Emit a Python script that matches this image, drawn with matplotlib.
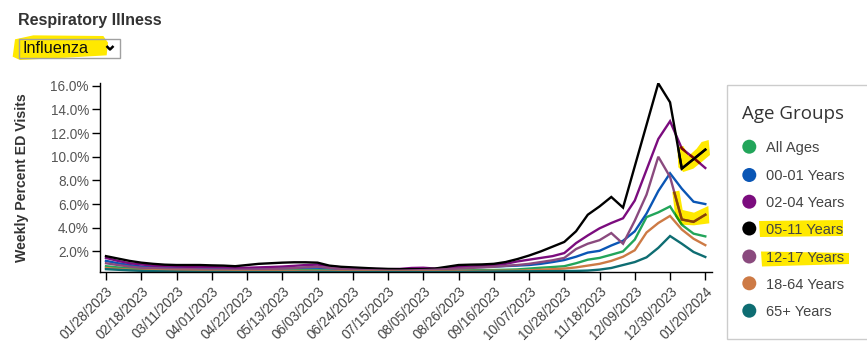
import numpy as np
import matplotlib
matplotlib.use("Agg")
import matplotlib.pyplot as plt
from matplotlib.patches import Polygon, Rectangle, Circle
from matplotlib.colors import to_rgb

# ---------------- data ----------------
tick_labels = ["01/28/2023", "02/18/2023", "03/11/2023", "04/01/2023", "04/22/2023",
               "05/13/2023", "06/03/2023", "06/24/2023", "07/15/2023", "08/05/2023",
               "08/26/2023", "09/16/2023", "10/07/2023", "10/28/2023", "11/18/2023",
               "12/09/2023", "12/30/2023", "01/20/2024"]

series_names = ["All Ages", "00-01 Years", "02-04 Years", "05-11 Years",
                "12-17 Years", "18-64 Years", "65+ Years"]

all_ages = [0.75, 0.65, 0.58, 0.52, 0.48, 0.46, 0.44, 0.42, 0.41, 0.4,
            0.39, 0.38, 0.38, 0.38, 0.39, 0.4, 0.41, 0.42, 0.42, 0.4,
            0.38, 0.37, 0.36, 0.35, 0.35, 0.35, 0.35, 0.36, 0.37, 0.38,
            0.4, 0.41, 0.42, 0.43, 0.45, 0.48, 0.55, 0.62, 0.68, 0.75,
            1.0, 1.3, 1.45, 1.72, 2.0, 3.0, 4.9, 5.3, 5.8, 4.25,
            3.5, 3.27]
age_00_01 = [1.2, 1.0, 0.85, 0.72, 0.68, 0.62, 0.6, 0.58, 0.55, 0.55,
             0.52, 0.5, 0.5, 0.52, 0.55, 0.58, 0.6, 0.62, 0.62, 0.58,
             0.52, 0.48, 0.46, 0.44, 0.43, 0.43, 0.44, 0.45, 0.5, 0.6,
             0.65, 0.66, 0.68, 0.72, 0.76, 0.8, 0.85, 0.95, 1.1, 1.27,
             1.55, 1.9, 2.05, 2.5, 2.9, 3.7, 5.2, 7.1, 8.6, 7.3,
             6.2, 6.0]
age_02_04 = [1.45, 1.2, 1.0, 0.9, 0.8, 0.75, 0.72, 0.7, 0.7, 0.68,
             0.65, 0.62, 0.62, 0.65, 0.68, 0.72, 0.78, 0.85, 0.88, 0.75,
             0.65, 0.58, 0.55, 0.52, 0.5, 0.52, 0.6, 0.62, 0.55, 0.6,
             0.68, 0.72, 0.78, 0.85, 0.95, 1.15, 1.3, 1.45, 1.6, 1.86,
             2.7, 3.35, 3.95, 4.4, 4.8, 6.3, 8.9, 11.5, 13.0, 10.7,
             9.9, 9.05]
age_05_11 = [1.6, 1.4, 1.2, 1.05, 0.95, 0.88, 0.85, 0.85, 0.85, 0.82,
             0.8, 0.75, 0.85, 0.95, 1.0, 1.05, 1.08, 1.08, 1.05, 0.8,
             0.7, 0.65, 0.6, 0.55, 0.52, 0.5, 0.5, 0.5, 0.55, 0.7,
             0.85, 0.88, 0.9, 0.95, 1.1, 1.35, 1.65, 2.0, 2.4, 2.8,
             3.7, 5.1, 5.8, 6.6, 5.7, 9.2, 12.7, 16.2, 14.6, 9.0,
             9.8, 10.6]
age_12_17 = [1.0, 0.85, 0.72, 0.62, 0.58, 0.55, 0.52, 0.5, 0.48, 0.47,
             0.46, 0.45, 0.46, 0.48, 0.5, 0.55, 0.6, 0.66, 0.7, 0.6,
             0.5, 0.45, 0.42, 0.4, 0.38, 0.38, 0.4, 0.42, 0.45, 0.5,
             0.55, 0.6, 0.65, 0.7, 0.78, 0.85, 0.95, 1.1, 1.25, 1.45,
             2.2, 2.65, 2.95, 3.55, 2.65, 4.6, 6.8, 10.0, 8.3, 4.7,
             4.5, 5.1]
age_18_64 = [0.6, 0.52, 0.46, 0.42, 0.4, 0.38, 0.37, 0.36, 0.35, 0.34,
             0.34, 0.33, 0.33, 0.33, 0.34, 0.34, 0.35, 0.35, 0.35, 0.34,
             0.33, 0.32, 0.32, 0.31, 0.31, 0.31, 0.31, 0.32, 0.32, 0.33,
             0.34, 0.35, 0.35, 0.36, 0.37, 0.38, 0.4, 0.45, 0.5, 0.55,
             0.65, 0.8, 0.95, 1.2, 1.55, 2.1, 3.6, 4.4, 5.0, 3.85,
             3.07, 2.53]
age_65_plus = [0.5, 0.45, 0.4, 0.36, 0.33, 0.31, 0.29, 0.28, 0.27, 0.27,
               0.27, 0.26, 0.26, 0.26, 0.26, 0.26, 0.26, 0.27, 0.27, 0.27,
               0.26, 0.26, 0.26, 0.26, 0.26, 0.26, 0.26, 0.26, 0.26, 0.27,
               0.27, 0.28, 0.29, 0.3, 0.31, 0.32, 0.32, 0.33, 0.33, 0.34,
               0.35, 0.38, 0.46, 0.6, 0.85, 1.1, 1.5, 2.3, 3.3, 2.65,
               1.95, 1.53]

series_values = [all_ages, age_00_01, age_02_04, age_05_11, age_12_17, age_18_64, age_65_plus]
colors = ["#22a55a", "#0a56b5", "#7b0c7e", "#000000", "#8a4a7e", "#cd7a45", "#0e6d72"]
yticks = [2, 4, 6, 8, 10, 12, 14, 16]

# ---------------- figure ----------------
W, H = 867, 356
fig = plt.figure(figsize=(W / 100, H / 100), dpi=100)
YEL = "#ffe900"

# background overlay axes in pixel coordinates
bg = fig.add_axes([0, 0, 1, 1], zorder=0)
bg.set_xlim(0, W)
bg.set_ylim(H, 0)
bg.axis("off")

# main chart axes
L, R, T, B = 100, 712, 83, 272
ax = fig.add_axes([L / W, 1 - B / H, (R - L) / W, (B - T) / H], zorder=1)
ax.patch.set_visible(False)

x = np.arange(len(all_ages))

def zp(pts, ox, oy):
    return [(ox + a / 3, oy + b / 3) for a, b in pts]

# highlighter strokes on chart (under lines)
hl1 = Polygon(zp([(742, 232), (760, 228), (776, 258), (800, 236), (815, 216), (836, 210),
                  (840, 255), (815, 276), (790, 296), (760, 306), (745, 292)], 430, 70),
              closed=True, facecolor=YEL, edgecolor="none", zorder=0.5)
hl2 = Polygon(zp([(727, 366), (748, 362), (758, 420), (792, 428), (835, 408), (838, 460),
                  (792, 466), (752, 464), (736, 440)], 430, 70),
              closed=True, facecolor=YEL, edgecolor="none", zorder=0.5)
bg.add_patch(hl1)
bg.add_patch(hl2)

yel_rgb = np.array(to_rgb(YEL))
for vals, c in zip(series_values, colors):
    ax.plot(x, vals, color=c, lw=1.7, solid_joinstyle="miter", zorder=2)
    mc = tuple(np.array(to_rgb(c)) * yel_rgb)
    for hp in (hl1, hl2):
        ln, = ax.plot(x, vals, color=mc, lw=1.7, solid_joinstyle="miter", zorder=2.5)
        ln.set_clip_path(hp)

ax.set_xlim(-0.51, 51.57)
ax.set_ylim(0.26, 16.23)
for s in ("top", "right"):
    ax.spines[s].set_visible(False)
for s in ("left", "bottom"):
    ax.spines[s].set_color("black")
    ax.spines[s].set_linewidth(1)

ax.set_yticks(yticks)
ax.set_yticklabels([f"{v:.1f}%" for v in yticks], fontsize=9.8, color="#555555",
                   family="Liberation Sans")
ax.set_xticks(np.arange(0, len(all_ages), 3))
ax.set_xticklabels(tick_labels, rotation=45, ha="right", rotation_mode="anchor",
                   fontsize=9.8, color="#444444", family="Liberation Sans")
ax.tick_params(axis="both", direction="out", length=6, width=1, color="black", pad=2)
ax.tick_params(axis="x", pad=3)

fig.text(22 / W, 1 - 178 / H, "Weekly Percent ED Visits", rotation=90, ha="center", va="center",
         fontsize=10.2, fontweight="bold", color="#333333", family="Liberation Sans")

# title and dropdown
bg.text(18, 21, "Respiratory Illness", fontsize=11.5, fontweight="bold", color="#333333",
        family="Liberation Sans", va="center", ha="left")
bg.add_patch(Polygon(zp([(45, 118), (100, 106), (310, 108), (324, 128), (320, 166),
                         (200, 173), (60, 180), (38, 170)], 0, 0),
                     closed=True, facecolor=YEL, edgecolor="none", zorder=1))
bg.add_patch(Rectangle((18.5, 38.5), 101, 19.5, facecolor="none", edgecolor="#a0a0a0",
                       lw=1, zorder=2))
bg.text(22.5, 48.5, "Influenza", fontsize=11.7, color="#111111", family="Liberation Sans",
        va="center", ha="left", zorder=3)
bg.plot([106.5, 110, 113.5], [46, 49.5, 46], color="black", lw=1.8, zorder=3,
        solid_capstyle="butt")

# legend
bg.add_patch(Rectangle((727, 85), 150, 254, facecolor="none", edgecolor="#cccccc", lw=1))
bg.text(742, 114, "Age Groups", fontsize=13.5, color="#333333", family="Open Sans",
        va="center", ha="left")
bg.add_patch(Polygon([(759, 221), (843, 220), (843, 236), (760, 237)], closed=True,
                     facecolor=YEL, edgecolor="none", zorder=1))
bg.add_patch(Polygon([(761, 251.5), (849, 253), (849, 264), (762, 266.5)], closed=True,
                     facecolor=YEL, edgecolor="none", zorder=1))
ys = [146.7, 175, 201.7, 228.5, 256.5, 283.3, 310.7]
for name, c, yy in zip(series_names, colors, ys):
    bg.add_patch(Circle((749.3, yy), 7, facecolor=c, edgecolor="none", zorder=2))
    bg.text(765.5, yy + 1.5, name, fontsize=10.5, color="#444444", family="Liberation Sans",
            va="center", ha="left", zorder=3)

fig.savefig("out.png", dpi=100)
